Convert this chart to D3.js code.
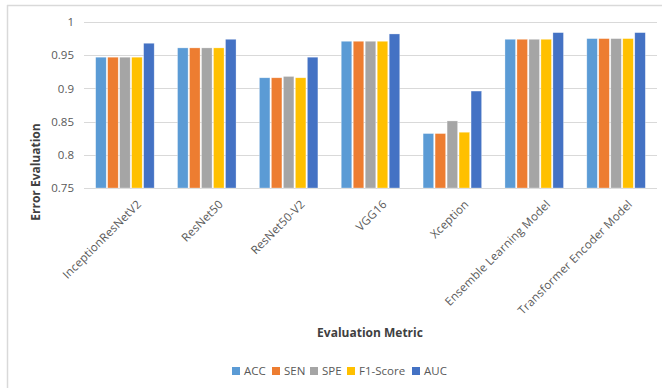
<!DOCTYPE html>
<html>
<head>
<meta charset="utf-8">
<script src="https://cdn.jsdelivr.net/npm/d3@7"></script>
<style>
  body { margin: 0; background: #fff; }
  text { font-family: "Open Sans", sans-serif; }
</style>
</head>
<body>
<div id="chart"></div>
<script>
// data
var models = ["InceptionResNetV2", "ResNet50", "ResNet50-V2", "VGG16", "Xception", "Ensemble Learning Model", "Transformer Encoder Model"];
var metrics = ["ACC", "SEN", "SPE", "F1-Score", "AUC"];
var acc = [0.947, 0.961, 0.916, 0.971, 0.832, 0.974, 0.975];
var sen = [0.947, 0.961, 0.916, 0.971, 0.832, 0.974, 0.975];
var spe = [0.947, 0.961, 0.918, 0.971, 0.851, 0.974, 0.975];
var f1 = [0.947, 0.961, 0.916, 0.971, 0.834, 0.974, 0.975];
var auc = [0.968, 0.974, 0.947, 0.982, 0.896, 0.984, 0.984];
var yTicks = [0.75, 0.8, 0.85, 0.9, 0.95, 1];
var colors = ["#5B9BD5", "#ED7D31", "#A5A5A5", "#FFC000", "#4472C4"];

var series = [acc, sen, spe, f1, auc];

var W = 662, H = 388;
var margin = { top: 22, right: 5, bottom: 200, left: 84 },
  width = 657 - margin.left,
  height = 188 - margin.top;

var root = d3.select("#chart").append("svg")
  .attr("width", W)
  .attr("height", H);

// chart frame (only top and left edges show)
root.append("line").attr("x1", 7).attr("x2", W).attr("y1", 5.5).attr("y2", 5.5)
  .attr("stroke", "#D9D9D9").attr("stroke-width", 1.5);
root.append("line").attr("x1", 7.5).attr("x2", 7.5).attr("y1", 5).attr("y2", H)
  .attr("stroke", "#D9D9D9").attr("stroke-width", 1.5);

var svg = root.append("g")
  .attr("transform", "translate(" + margin.left + "," + margin.top + ")");

var x0 = d3.scaleBand().domain(models).range([0, width]).paddingInner(0.25).paddingOuter(0.125);
var x1 = d3.scaleBand().domain(metrics).range([0, x0.bandwidth()]).padding(0.12);
var y = d3.scaleLinear().domain([0.75, 1]).range([height, 0]);

// gridlines
svg.append("g")
  .selectAll("line")
  .data(yTicks)
  .enter()
  .append("line")
  .attr("x1", 0)
  .attr("x2", width)
  .attr("y1", function (d) { return Math.round(y(d)) + 0.5; })
  .attr("y2", function (d) { return Math.round(y(d)) + 0.5; })
  .attr("stroke", "#D9D9D9")
  .attr("stroke-width", 1.2);

// y axis labels
var yAxis = svg.append("g")
  .call(d3.axisLeft(y).tickValues(yTicks).tickSize(0).tickPadding(10).tickFormat(function (d) { return d3.format("")(d); }));
yAxis.select(".domain").remove();
yAxis.selectAll("text")
  .attr("fill", "#595959")
  .style("font-size", "11.5px");

// bars
var groups = svg.selectAll(".grp")
  .data(models)
  .enter()
  .append("g")
  .attr("class", "grp")
  .attr("transform", function (d) { return "translate(" + x0(d) + ",0)"; });

groups.selectAll("rect")
  .data(function (d, i) {
    return metrics.map(function (m, j) { return { metric: m, value: series[j][i], color: colors[j] }; });
  })
  .enter()
  .append("rect")
  .attr("x", function (d) { return x1(d.metric); })
  .attr("y", function (d) { return y(d.value); })
  .attr("width", x1.bandwidth())
  .attr("height", function (d) { return height - y(d.value); })
  .attr("fill", function (d) { return d.color; })
  .attr("stroke", "#fff")
  .attr("stroke-opacity", 0.5)
  .attr("stroke-width", 0.6);

// x axis labels
var xAxis = svg.append("g")
  .attr("transform", "translate(0," + height + ")")
  .call(d3.axisBottom(x0).tickSize(0).tickPadding(0));
xAxis.select(".domain").remove();
xAxis.selectAll("text")
  .attr("fill", "#595959")
  .style("font-size", "11.5px")
  .style("letter-spacing", "0.2px")
  .style("text-anchor", "end")
  .attr("dy", null)
  .attr("transform", "translate(17,17)rotate(-45)");

// axis titles
root.append("text")
  .attr("transform", "translate(40,172)rotate(-90)")
  .attr("text-anchor", "middle")
  .attr("fill", "#404040")
  .style("font-size", "12px")
  .style("font-weight", "bold")
  .text("Error Evaluation");

root.append("text")
  .attr("x", 370)
  .attr("y", 337)
  .attr("text-anchor", "middle")
  .attr("fill", "#404040")
  .style("font-size", "12px")
  .style("font-weight", "bold")
  .text("Evaluation Metric");

// legend
var legendX = [232, 272, 310, 347, 412];
var legend = root.selectAll(".leg")
  .data(metrics)
  .enter()
  .append("g")
  .attr("class", "leg")
  .attr("transform", function (d, i) { return "translate(" + legendX[i] + ",367)"; });
legend.append("rect")
  .attr("width", 8)
  .attr("height", 8)
  .attr("fill", function (d, i) { return colors[i]; });
legend.append("text")
  .attr("x", 12)
  .attr("y", 8)
  .attr("fill", "#595959")
  .style("font-size", "11.5px")
  .text(function (d) { return d; });
</script>
</body>
</html>
